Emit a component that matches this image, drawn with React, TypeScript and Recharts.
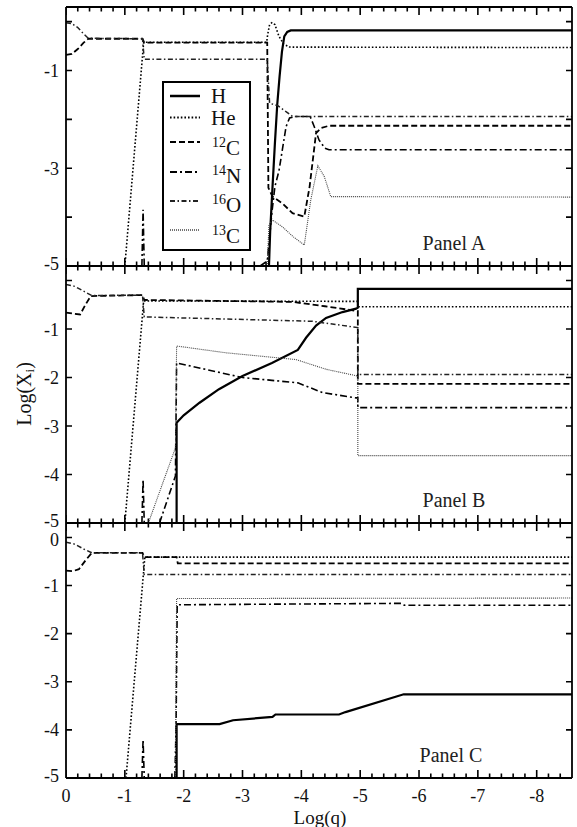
import React from "react";
import { LineChart, Line, XAxis, YAxis } from "recharts";

type Pt = [number, number | null];

// x = Log(q), y = Log(X_i)
const xMinor = Array.from({ length: 43 }, (_, i) => Number((-0.2 * i).toFixed(1)));
const yTicks = [0, -1, -2, -3, -4, -5];
const yLabelsA = [-1, -3, -5];
const yLabelsB = [-1, -2, -3, -4, -5];
const yLabelsC = [0, -1, -2, -3, -4, -5];

const species = ["H", "He", "12C", "14N", "16O", "13C"];

// ---- Panel A ----
const hA: Pt[] = [[-3.45, -5], [-3.47, -4.3], [-3.51, -3.38], [-3.55, -2.5], [-3.59, -1.7], [-3.63, -1.12], [-3.67, -0.62], [-3.71, -0.3], [-3.76, -0.21], [-3.82, -0.18], [-8.6, -0.18]];
const heA: Pt[] = [[-1.0, -5], [-1.32, -0.42], [-3.41, -0.42], [-3.43, -0.25], [-3.46, -0.06], [-3.5, -0.02], [-3.55, -0.06], [-3.62, -0.3], [-3.7, -0.46], [-3.8, -0.52], [-8.6, -0.53]];
const c12A: Pt[] = [[0, -0.68], [-0.1, -0.66], [-0.2, -0.56], [-0.3, -0.43], [-0.38, -0.35], [-1.3, -0.35], [-1.33, -0.43], [-3.42, -0.43], [-3.44, -3.4], [-3.51, -3.58], [-3.68, -3.72], [-3.85, -3.92], [-4.05, -3.99], [-4.14, -3.38], [-4.25, -2.28], [-4.33, -2.18], [-4.47, -2.13], [-8.6, -2.13]];
const n14A: Pt[] = [[-1.29, -5], [-1.31, -3.85], [-1.33, -5], [-2.4, null], [-3.3, -5], [-3.42, -4.9], [-3.5, -3.9], [-3.55, -3.38], [-3.62, -3.05], [-3.68, -2.6], [-3.74, -2.15], [-3.8, -1.97], [-3.9, -1.94], [-4.15, -1.94], [-4.22, -2.15], [-4.3, -2.42], [-4.4, -2.59], [-4.47, -2.62], [-8.6, -2.62]];
const o16A: Pt[] = [[0, -0.02], [-0.1, -0.04], [-0.2, -0.12], [-0.3, -0.25], [-0.38, -0.34], [-1.3, -0.35], [-1.33, -0.77], [-3.42, -0.77], [-3.46, -1.67], [-3.6, -1.72], [-3.75, -1.85], [-3.85, -1.94], [-8.6, -1.94]];
const c13A: Pt[] = [[-3.42, -5], [-3.45, -4.15], [-3.51, -4.06], [-3.68, -4.2], [-3.86, -4.4], [-4.05, -4.57], [-4.16, -3.65], [-4.28, -2.95], [-4.39, -3.17], [-4.5, -3.58], [-8.6, -3.59]];

// ---- Panel B ----
const hB: Pt[] = [[-1.88, -5], [-1.88, -2.93], [-2.0, -2.78], [-2.27, -2.52], [-2.6, -2.24], [-3.0, -1.97], [-3.5, -1.7], [-3.94, -1.43], [-4.08, -1.18], [-4.25, -0.93], [-4.42, -0.77], [-4.7, -0.65], [-4.93, -0.58], [-4.96, -0.56], [-4.96, -0.17], [-8.6, -0.17]];
const heB: Pt[] = [[-1.0, -5], [-1.32, -0.42], [-4.96, -0.43], [-4.96, -0.54], [-8.6, -0.54]];
const c12B: Pt[] = [[0, -0.66], [-0.12, -0.68], [-0.24, -0.7], [-0.33, -0.5], [-0.42, -0.32], [-1.3, -0.3], [-1.33, -0.4], [-3.85, -0.44], [-4.4, -0.53], [-4.96, -0.63], [-4.96, -2.13], [-8.6, -2.13]];
const n14B: Pt[] = [[-1.29, -5], [-1.31, -4.1], [-1.33, -5], [-1.45, null], [-1.59, -5], [-1.86, -4.03], [-1.88, -1.7], [-3.0, -2.0], [-3.94, -2.11], [-4.36, -2.31], [-4.93, -2.42], [-4.96, -2.42], [-4.96, -2.62], [-8.6, -2.62]];
const o16B: Pt[] = [[0, -0.08], [-0.15, -0.12], [-0.3, -0.22], [-0.44, -0.31], [-1.3, -0.3], [-1.33, -0.75], [-4.19, -0.84], [-4.96, -0.97], [-4.96, -1.94], [-8.6, -1.94]];
const c13B: Pt[] = [[-1.4, -5], [-1.86, -3.45], [-1.88, -1.35], [-2.72, -1.49], [-3.91, -1.63], [-4.42, -1.83], [-4.96, -1.97], [-4.96, -3.61], [-8.6, -3.61]];

// ---- Panel C ----
const hC: Pt[] = [[-1.88, -5], [-1.88, -3.88], [-2.61, -3.88], [-2.84, -3.8], [-3.51, -3.73], [-3.56, -3.68], [-4.64, -3.68], [-4.75, -3.63], [-5.74, -3.26], [-8.6, -3.26]];
const heC: Pt[] = [[-1.02, -5], [-1.34, -0.41], [-8.6, -0.41]];
const c12C: Pt[] = [[0, -0.69], [-0.12, -0.7], [-0.22, -0.66], [-0.33, -0.48], [-0.44, -0.32], [-1.3, -0.32], [-1.33, -0.41], [-1.88, -0.41], [-1.9, -0.54], [-8.6, -0.54]];
const n14C: Pt[] = [[-1.29, -5], [-1.31, -4.2], [-1.33, -5], [-1.6, null], [-1.85, -5], [-1.87, -4.0], [-1.89, -1.4], [-5.7, -1.37], [-5.75, -1.41], [-8.6, -1.41]];
const o16C: Pt[] = [[0, -0.1], [-0.15, -0.14], [-0.3, -0.24], [-0.44, -0.32], [-1.3, -0.32], [-1.33, -0.77], [-8.6, -0.77]];
const c13C: Pt[] = [[-1.86, -5], [-1.88, -1.27], [-8.6, -1.26]];

const FONT = "'Liberation Serif', 'DejaVu Serif', serif";
const X_DOMAIN: [number, number] = [-8.6, 0];
const Y_DOMAIN: [number, number] = [-5, 0.3];
const AXIS = { stroke: "#000", strokeWidth: 1.8 };
const MARGIN = { top: 10, right: 4, bottom: 30, left: 0 };

const lineStyle: Record<string, { dash?: string; width: number; color: string }> = {
  H: { width: 2.2, color: "#000" },
  He: { dash: "1.6 2", width: 1.6, color: "#000" },
  "12C": { dash: "6 3", width: 1.8, color: "#000" },
  "14N": { dash: "7 3 2 3", width: 1.6, color: "#000" },
  "16O": { dash: "5 2.5 1.5 2.5", width: 1.5, color: "#222" },
  "13C": { dash: "1 1", width: 1.1, color: "#444" },
};

const toData = (pts: Pt[]) => pts.map(([x, y]) => ({ x, y }));
const isMajor = (v: number) => Math.abs(v - Math.round(v)) < 1e-6;

const dataA = [hA, heA, c12A, n14A, o16A, c13A].map(toData);
const dataB = [hB, heB, c12B, n14B, o16B, c13B].map(toData);
const dataC = [hC, heC, c12C, n14C, o16C, c13C].map(toData);

// inward tick marks on all four sides, as short segments in data units
// (4.5 / 8 px high on x, 6 px wide on y), broken apart by null points
const TICK_MINOR = 0.093;
const TICK_MAJOR = 0.165;
const TICK_Y = 0.102;
const tickMarks: { x: number; y: number | null }[] = [];
xMinor.forEach((v) => {
  const len = isMajor(v) ? TICK_MAJOR : TICK_MINOR;
  tickMarks.push({ x: v, y: -5 }, { x: v, y: -5 + len }, { x: v, y: null });
  tickMarks.push({ x: v, y: 0.3 }, { x: v, y: 0.3 - len }, { x: v, y: null });
});
yTicks.forEach((v) => {
  tickMarks.push({ x: 0, y: v }, { x: -TICK_Y, y: v }, { x: -TICK_Y, y: null });
  tickMarks.push({ x: -8.6, y: v }, { x: -8.6 + TICK_Y, y: v }, { x: -8.6 + TICK_Y, y: null });
});

const makeBottomLabel = (labels: boolean) => (p: any) => {
  const v = p.payload.value;
  if (!labels || !isMajor(v)) return <g />;
  return (
    <text x={p.x} y={Number(p.y) + 24} textAnchor="middle" fontSize={18} fontFamily={FONT} fill="#111">
      {String(Math.round(v))}
    </text>
  );
};

const makeLeftLabel = (labels: number[]) => (p: any) => {
  const v = p.payload.value;
  if (!labels.includes(v)) return <g />;
  const dy = v === -5 ? 4 : v === 0 ? 9 : 6.5;
  return (
    <text x={Number(p.x) - 7} y={Number(p.y) + dy} textAnchor="end" fontSize={18} fontFamily={FONT} fill="#111">
      {String(v)}
    </text>
  );
};

const bottomPlain = makeBottomLabel(false);
const bottomLabelled = makeBottomLabel(true);
const leftA = makeLeftLabel(yLabelsA);
const leftB = makeLeftLabel(yLabelsB);
const leftC = makeLeftLabel(yLabelsC);

type PanelProps = { top: number; plotH: number; data: { x: number; y: number | null }[][]; leftTick: any; bottomTick: any };

function Panel({ top, plotH, data, leftTick, bottomTick }: PanelProps) {
  return (
    <div style={{ position: "absolute", left: 0, top: top - MARGIN.top - 1 }}>
      <LineChart width={577} height={plotH + MARGIN.top + MARGIN.bottom + 2} margin={MARGIN}>
        <XAxis
          xAxisId="b"
          orientation="bottom"
          type="number"
          dataKey="x"
          domain={X_DOMAIN}
          reversed
          allowDataOverflow
          ticks={xMinor}
          interval={0}
          height={1}
          tickSize={0}
          tickMargin={0}
          tickLine={false}
          axisLine={AXIS}
          tick={bottomTick}
        />
        <XAxis
          xAxisId="t"
          orientation="top"
          type="number"
          dataKey="x"
          domain={X_DOMAIN}
          reversed
          allowDataOverflow
          height={1}
          tickLine={false}
          axisLine={AXIS}
          tick={false}
        />
        <YAxis
          yAxisId="l"
          orientation="left"
          type="number"
          domain={Y_DOMAIN}
          allowDataOverflow
          ticks={yTicks}
          interval={0}
          width={66}
          tickSize={0}
          tickMargin={0}
          tickLine={false}
          axisLine={AXIS}
          tick={leftTick}
        />
        <YAxis
          yAxisId="r"
          orientation="right"
          type="number"
          domain={Y_DOMAIN}
          allowDataOverflow
          width={1}
          tickLine={false}
          axisLine={AXIS}
          tick={false}
        />
        <Line
          xAxisId="t"
          yAxisId="r"
          data={tickMarks}
          dataKey="y"
          type="linear"
          stroke="#000"
          strokeWidth={1.6}
          dot={false}
          activeDot={false}
          isAnimationActive={false}
        />
        {species.map((s, i) => (
          <Line
            key={s}
            xAxisId="b"
            yAxisId="l"
            data={data[i]}
            dataKey="y"
            type="linear"
            stroke={lineStyle[s].color}
            strokeWidth={lineStyle[s].width}
            strokeDasharray={lineStyle[s].dash}
            dot={false}
            activeDot={false}
            isAnimationActive={false}
          />
        ))}
      </LineChart>
    </div>
  );
}

const legendRows = [
  { key: "H", sup: "", main: "H", ly: 96, base: 103 },
  { key: "He", sup: "", main: "He", ly: 117.5, base: 125 },
  { key: "12C", sup: "12", main: "C", ly: 142, base: 155 },
  { key: "14N", sup: "14", main: "N", ly: 172, base: 183 },
  { key: "16O", sup: "16", main: "O", ly: 201, base: 212 },
  { key: "13C", sup: "13", main: "C", ly: 230, base: 243 },
];

export default function App() {
  return (
    <div style={{ position: "absolute", left: 0, top: 0, width: 577, height: 827, background: "#fff" }}>
      <Panel top={7} plotH={259} data={dataA} leftTick={leftA} bottomTick={bottomPlain} />
      <Panel top={266} plotH={257} data={dataB} leftTick={leftB} bottomTick={bottomPlain} />
      <Panel top={523} plotH={255} data={dataC} leftTick={leftC} bottomTick={bottomLabelled} />
      <svg
        width={577}
        height={827}
        style={{ position: "absolute", left: 0, top: 0, pointerEvents: "none" }}
        fontFamily={FONT}
      >
        <text x={454} y={250} textAnchor="middle" fontSize={20} fill="#222">Panel A</text>
        <text x={454} y={507} textAnchor="middle" fontSize={20} fill="#222">Panel B</text>
        <text x={451} y={762} textAnchor="middle" fontSize={20} fill="#222">Panel C</text>
        <text x={320} y={824} textAnchor="middle" fontSize={19} fill="#111">Log(q)</text>
        <text x={24} y={394} transform="rotate(-90 24 394)" textAnchor="middle" dominantBaseline="central" fontSize={20} fill="#111">
          Log(X<tspan fontSize={13} dy={5}>i</tspan><tspan dy={-5}>)</tspan>
        </text>
        <rect x={163} y={82} width={87} height={168} fill="#fff" stroke="#000" strokeWidth={2} />
        {legendRows.map((r) => {
          const st = lineStyle[r.key];
          return (
            <g key={r.key}>
              <line x1={170} x2={200} y1={r.ly} y2={r.ly} stroke={st.color} strokeWidth={st.width + 0.3} strokeDasharray={st.dash} />
              {r.sup ? (
                <>
                  <text x={212} y={r.base - 8} fontSize={14} fill="#111">{r.sup}</text>
                  <text x={226} y={r.base} fontSize={21} fill="#111">{r.main}</text>
                </>
              ) : (
                <text x={211} y={r.base} fontSize={21} fill="#111">{r.main}</text>
              )}
            </g>
          );
        })}
      </svg>
    </div>
  );
}
